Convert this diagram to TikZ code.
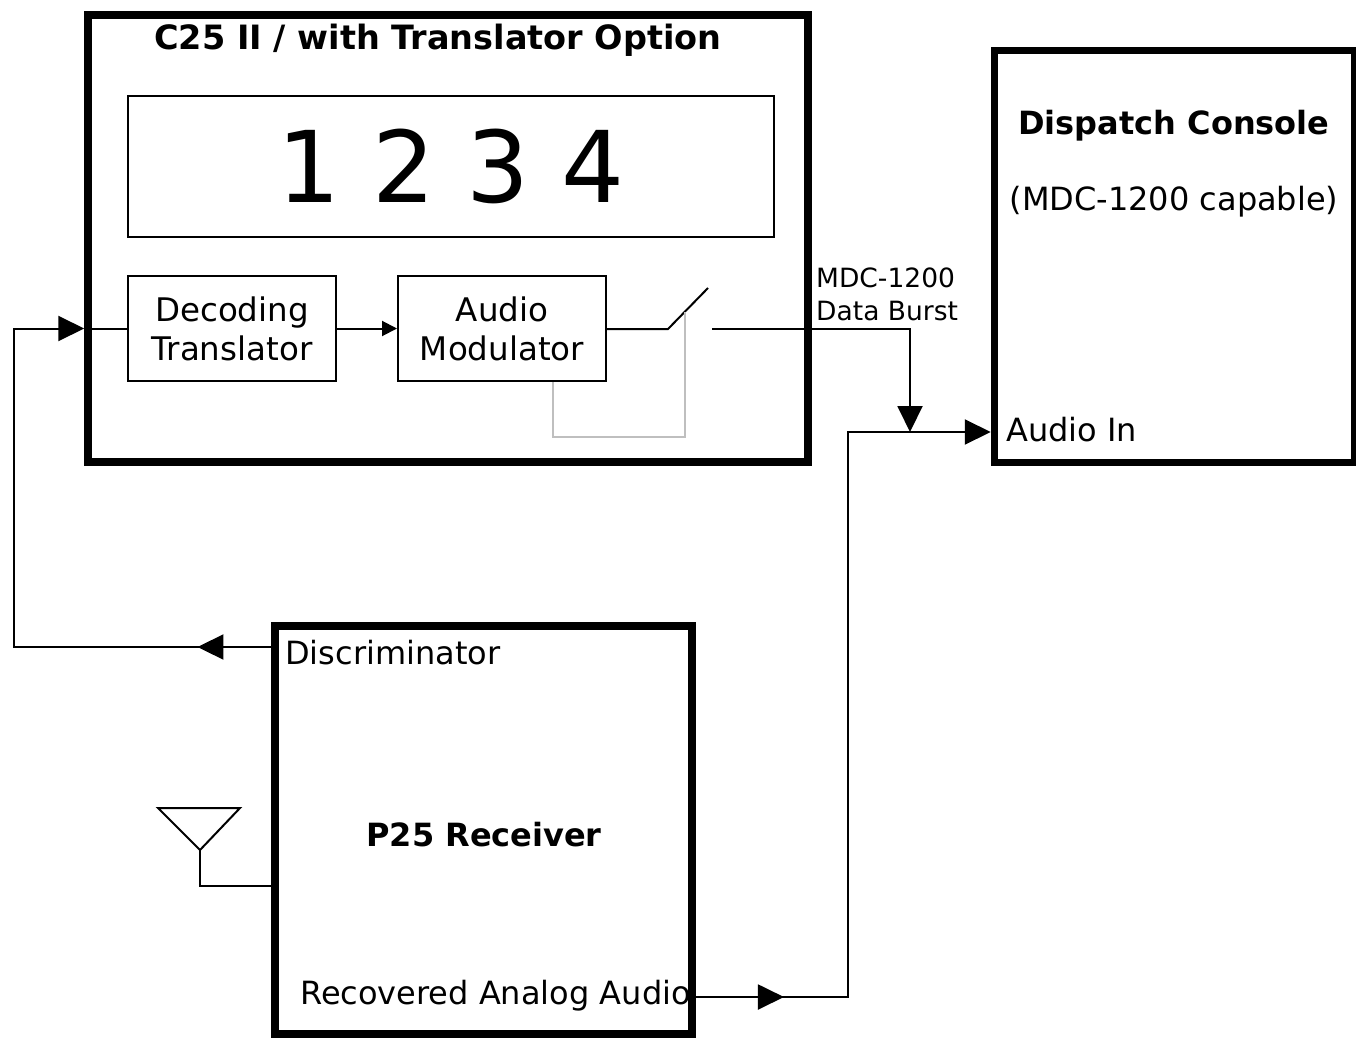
\documentclass[tikz,border=0pt]{standalone}
\usepackage{fontspec}
\setmainfont{DejaVu Sans}
\usetikzlibrary{arrows.meta,decorations.markings}

\begin{document}
\begin{tikzpicture}[x=1pt,y=-1pt,
    bigbox/.style={draw,line width=7.5pt,inner sep=0pt},
    thinbox/.style={draw,line width=2pt,inner sep=0pt,minimum width=208pt,minimum height=105pt,align=center,font=\fontsize{32.5}{39}\selectfont},
    wire/.style={line width=2pt},
    bigtip/.tip={Triangle[length=26pt,width=25pt]},
    smalltip/.tip={Triangle[length=15pt,width=15pt]},
    midtip/.style={postaction={decorate},decoration={markings,mark=at position #1 with {\arrow{bigtip}}}},
    lbl/.style={inner sep=0pt,font=\fontsize{32}{38}\selectfont},
    title/.style={inner sep=0pt,font=\fontsize{32}{38}\selectfont\bfseries}]
  \useasboundingbox (0,0) rectangle (1356,1038);

  % boxes
  \node[bigbox,minimum width=720pt,minimum height=447pt] (c25) at (448,238.5) {};
  \node[bigbox,minimum width=360pt,minimum height=412pt] (dsp) at (1174.5,256.5) {};
  \node[bigbox,minimum width=417pt,minimum height=408pt] (rx) at (483.7,830) {};
  \node[draw,line width=2pt,minimum width=646pt,minimum height=141pt] (disp) at (451,166.5)
    {\fontsize{99}{99}\selectfont 1 2 3 4};
  \node[thinbox] (dec) at (232,328.5) {Decoding\\Translator};
  \node[thinbox] (mod) at (502,328.5) {Audio\\Modulator};

  % texts
  \node[title,font=\fontsize{33.5}{38}\selectfont\bfseries] (c25t) at (438,40) {C25 II / with Translator Option};
  \node[title] (dspt) at (1174,126) {Dispatch Console};
  \node[lbl] (dspc) at (1174,202) {(MDC-1200 capable)};
  \node[lbl,anchor=west] (ain) at (1006,430) {Audio In};
  \node[title] (rxt) at (484,835) {P25 Receiver};
  \node[lbl,anchor=west] (disc) at (285,653) {Discriminator};
  \node[lbl,anchor=west] (rec) at (300,996) {Recovered Analog Audio};
  \node[inner sep=0pt,anchor=north west,align=left,font=\fontsize{26.5}{33}\selectfont] (mdc) at (816,268)
    {MDC-1200\\Data Burst};

  % switch
  \coordinate (sw1) at (668,329);
  \coordinate (swtop) at (708,288);
  \coordinate (swmid) at (685,311.5);
  \coordinate (sw2) at (712,329);
  \coordinate (junc) at (910,432);
  \draw[wire] (mod.east |- sw1) -- (sw1) -- (swtop);
  \draw[wire,-{bigtip}] (sw2) -| (junc);
  \draw[line width=2pt,lightgray] ([xshift=51pt]mod.south) |- (685,437) -- (swmid);

  % signal path
  \coordinate (discout) at (rx.west |- 0,647);
  \coordinate (inL) at (14,647);
  \draw[wire,midtip=74pt,-{bigtip}] (discout) -- (inL) |- (c25.west |- dec.west);
  \draw[wire] (c25.west |- dec.west) -- (dec.west);
  \draw[wire,-{smalltip}] (dec) -- (mod);
  \coordinate (rxout) at (rx.east |- 0,997);
  \draw[wire,midtip=88pt,-{bigtip}] (rxout) -| (848,432) -- (dsp.west |- junc);

  % antenna
  \coordinate (ant) at (200,850);
  \draw[wire] (158,808) -- (240,808) -- (ant) -- cycle;
  \draw[wire] (ant) |- (rx.west |- 0,886);
\end{tikzpicture}
\end{document}
